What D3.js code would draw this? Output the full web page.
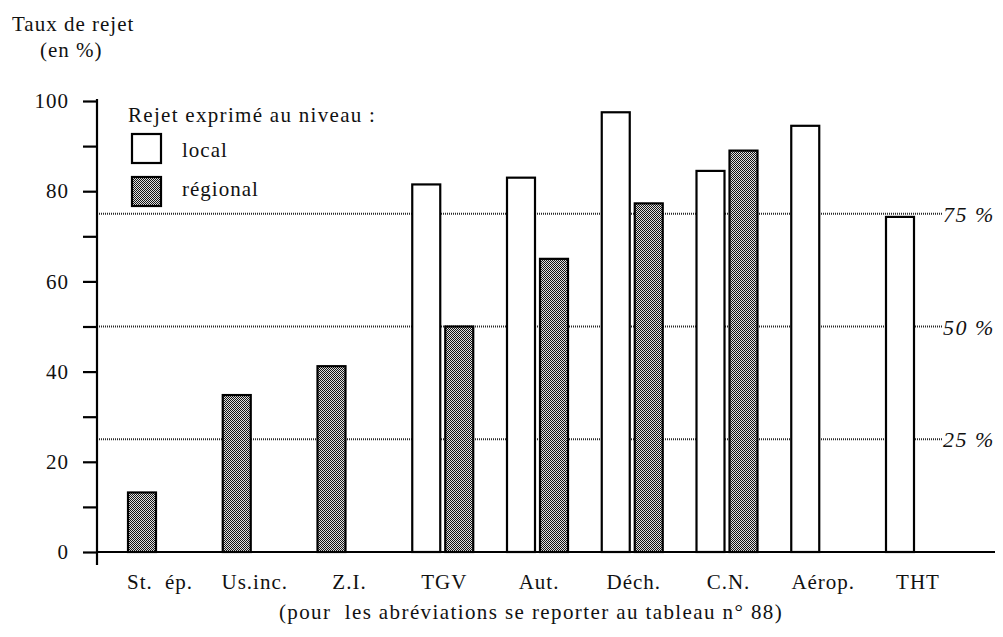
<!DOCTYPE html>
<html><head><meta charset="utf-8">
<script src="https://cdn.jsdelivr.net/npm/d3@7"></script>
<style>body{margin:0;background:#fff}svg{display:block}text{font-family:"Liberation Serif","DejaVu Serif",serif;fill:#111}</style>
</head><body><svg id="c" width="1003" height="637"></svg>
<script>
const categories = ["St. ép.","Us.inc.","Z.I.","TGV","Aut.","Déch.","C.N.","Aérop.","THT"];
const localValues = [null,null,null,81.5,83,97.5,84.5,94.5,74.3];
const regionalValues = [13.2,34.8,41.2,50,65,77.3,89,null,null];
const yTicks = [0,20,40,60,80,100];
const yMinorTicks = [10,30,50,70,90];
const refLines = [25,50,75];
const refLabels = ["25 %","50 %","75 %"];

const svg = d3.select("#c");
const defs = svg.append("defs");
const pat = defs.append("pattern").attr("id","hatch").attr("width",2).attr("height",2).attr("patternUnits","userSpaceOnUse");
pat.append("rect").attr("width",2).attr("height",2).attr("fill","#e0e0e0");
pat.append("rect").attr("x",0).attr("y",0).attr("width",1).attr("height",1).attr("fill","#151515");
pat.append("rect").attr("x",1).attr("y",1).attr("width",1).attr("height",1).attr("fill","#151515");

const y = d3.scaleLinear().domain([0,100]).range([552,101]);
const x = d3.scaleBand().domain(categories).range([118,118+94.75*9]).padding(0);
const axisX = 97;
const barW = 28;

// reference lines
refLines.forEach((v,i)=>{
  svg.append("line").attr("x1",axisX).attr("x2",942).attr("y1",y(v)).attr("y2",y(v))
    .attr("stroke","#2a2a2a").attr("stroke-width",2).attr("stroke-dasharray","1,1");
  svg.append("text").attr("x",943).attr("y",y(v)+8).attr("font-size",22).attr("font-style","italic")
    .attr("letter-spacing",1.5).attr("xml:space","preserve").text(refLabels[i]);
});

// bars
categories.forEach((c,i)=>{
  const l = localValues[i], r = regionalValues[i];
  let slot = 0;
  const x0 = x(c)+10;
  if(l!=null){
    svg.append("rect").attr("x",x0).attr("y",y(l)).attr("width",barW).attr("height",y(0)-y(l))
      .attr("fill","#fff").attr("stroke","#000").attr("stroke-width",2.2);
    slot = 1;
  }
  if(r!=null){
    const xr = x0 + slot*33;
    svg.append("rect").attr("x",xr).attr("y",y(r)).attr("width",barW).attr("height",y(0)-y(r))
      .attr("fill","url(#hatch)").attr("stroke","#000").attr("stroke-width",2.2);
  }
});

// axes
const yAxis = d3.axisLeft(y).tickValues(yTicks).tickSize(14).tickPadding(14).tickFormat(d3.format("d"));
const gy = svg.append("g").attr("transform",`translate(${axisX},0)`).call(yAxis);
gy.select(".domain").remove();
gy.selectAll(".tick line").attr("stroke","#000").attr("stroke-width",2.2);
gy.selectAll(".tick text").attr("font-size",21).attr("font-family","Liberation Serif, serif").attr("fill","#111").attr("letter-spacing",1);
const gm = svg.append("g").attr("transform",`translate(${axisX},0)`).call(d3.axisLeft(y).tickValues(yMinorTicks).tickSize(14).tickFormat(""));
gm.select(".domain").remove();
gm.selectAll(".tick line").attr("stroke","#000").attr("stroke-width",2.2);

svg.append("line").attr("x1",axisX).attr("x2",axisX).attr("y1",99).attr("y2",565).attr("stroke","#000").attr("stroke-width",2.2);
svg.append("line").attr("x1",axisX).attr("x2",995).attr("y1",y(0)).attr("y2",y(0)).attr("stroke","#000").attr("stroke-width",2.2);

// x labels
svg.append("g").selectAll("text").data(categories).join("text")
  .attr("x",d=>x(d)+42).attr("y",589).attr("text-anchor","middle").attr("font-size",21)
  .attr("letter-spacing",1).attr("word-spacing",6).text(d=>d);

// titles
svg.append("text").attr("x",12).attr("y",31).attr("font-size",21).attr("letter-spacing",1).text("Taux de rejet");
svg.append("text").attr("x",40).attr("y",57).attr("font-size",21).attr("letter-spacing",1).text("(en %)");
svg.append("text").attr("x",531).attr("y",619).attr("text-anchor","middle").attr("font-size",21).attr("letter-spacing",1.4)
  .attr("xml:space","preserve").text("(pour  les abréviations se reporter au tableau n° 88)");

// legend
svg.append("text").attr("x",128).attr("y",122).attr("font-size",21).attr("letter-spacing",1.3).text("Rejet exprimé au niveau :");
svg.append("rect").attr("x",132).attr("y",134).attr("width",29).attr("height",29).attr("fill","#fff").attr("stroke","#000").attr("stroke-width",2.2);
svg.append("text").attr("x",182).attr("y",157).attr("font-size",21).attr("letter-spacing",1).text("local");
svg.append("rect").attr("x",132).attr("y",177).attr("width",29).attr("height",29).attr("fill","url(#hatch)").attr("stroke","#000").attr("stroke-width",2.2);
svg.append("text").attr("x",182).attr("y",196).attr("font-size",21).attr("letter-spacing",1).text("régional");
</script></body></html>
